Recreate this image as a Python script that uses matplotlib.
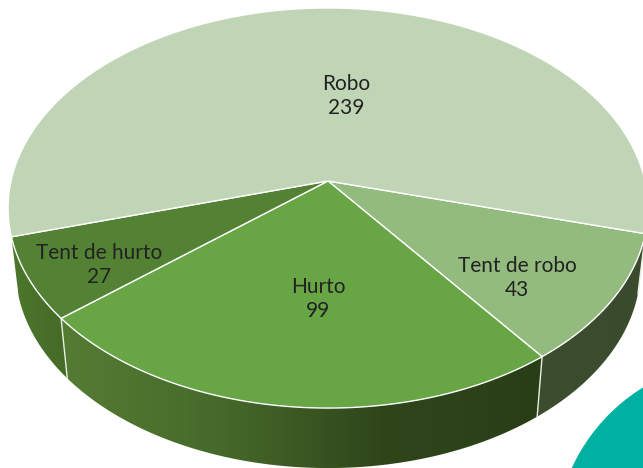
import numpy as np
import matplotlib
matplotlib.use('Agg')
import matplotlib.pyplot as plt
from matplotlib.colors import LinearSegmentedColormap
from matplotlib.patches import Circle, Polygon

labels = ['Tent de robo', 'Hurto', 'Tent de hurto', 'Robo']
values = [43, 99, 27, 239]
top_colors = ['#93bb7d', '#67a545', '#548235', '#c0d5b5']
wall_colors = [['#3d4d30', '#3a4a2d'],
               ['#557c33', '#46692a', '#2f461b', '#293e17'],
               ['#4d772c', '#456a28'],
               None]
label_x = [517, 318, 99, 346]
label_y = [278, 299, 265, 96]

start = 105.0  # clockwise from the back of the pie
cx, cy = 328, 181
a, b, k = 317, 196.4, 0.135
depth = 60
shrink = 0.977

plt.rcParams['font.family'] = ['Lato', 'DejaVu Sans']


def rim(theta):
    # circle seen in perspective, the apex ends up off centre
    t = np.radians(theta)
    s = 1 / (1 + k * np.cos(t))
    return cx + a * np.sin(t) * s, cy - b * np.cos(t) * s


fig = plt.figure(figsize=(6.43, 4.68), dpi=100)
ax = fig.add_axes([0, 0, 1, 1])

ax.add_patch(Circle((740, 545), 185, fc='#00b0a0', ec='none', zorder=1))

angles = start + np.cumsum([0] + values) / sum(values) * 360

# side walls first, then the top
for i in range(len(values)):
    if wall_colors[i] is None:
        continue
    th = np.linspace(angles[i], angles[i + 1], 80)
    x, y = rim(th)
    xb = cx + (x - cx) * shrink
    yb = y + depth
    pts = np.r_[np.c_[x, y], np.c_[xb, yb][::-1]]
    poly = Polygon(pts, fc='none', ec='none', zorder=2)
    ax.add_patch(poly)
    cmap = LinearSegmentedColormap.from_list(f'wall{i}', wall_colors[i])
    grad = np.linspace(0, 1, 256).reshape(1, -1)
    im = ax.imshow(grad, cmap=cmap, aspect='auto', zorder=2,
                   extent=[pts[:, 0].min(), pts[:, 0].max(), pts[:, 1].max(), pts[:, 1].min()])
    im.set_clip_path(poly)
    # dividing line on the wall
    ax.plot([x[0], xb[0]], [y[0], yb[0]], color='#e8eee2', lw=1.0, zorder=3)

for i in range(len(values)):
    th = np.linspace(angles[i], angles[i + 1], 200)
    x, y = rim(th)
    ax.add_patch(Polygon(np.c_[np.r_[cx, x], np.r_[cy, y]], fc=top_colors[i],
                         ec='white', lw=1.0, joinstyle='round', zorder=4))
    ax.text(label_x[i], label_y[i], f'{labels[i]}\n{values[i]}', ha='center', va='center',
            fontsize=15, color='#222222', linespacing=1.22, zorder=5)

ax.set_xlim(0, 643)
ax.set_ylim(468, 0)
ax.axis('off')
fig.savefig('out.png', dpi=100)
